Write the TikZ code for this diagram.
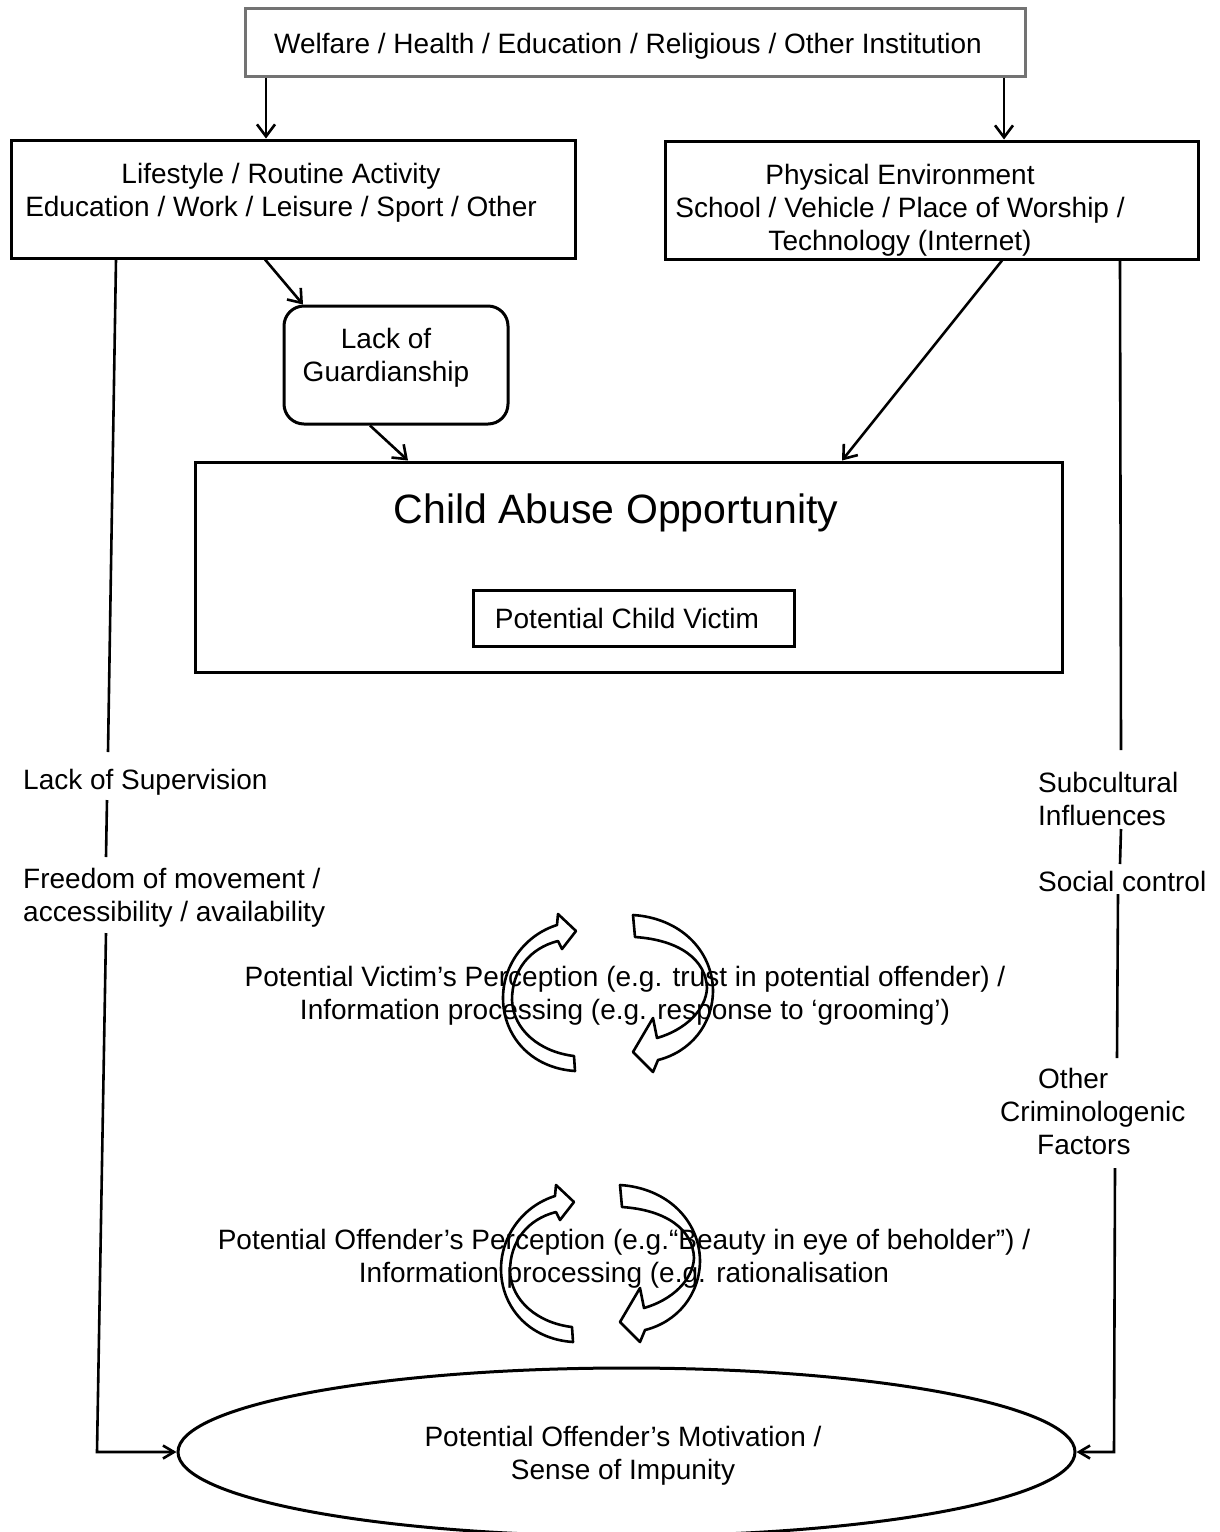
\documentclass[tikz,border=0pt]{standalone}
\usepackage{fontspec}
\setmainfont{Liberation Sans}
\usetikzlibrary{arrows.meta,shapes.geometric}
\begin{document}
\begin{tikzpicture}[x=1pt,y=-1pt,
  txt/.style={font=\fontsize{28}{33}\selectfont, inner sep=0pt, align=center, yshift=-3pt},
  box/.style={draw, line width=3pt, inner sep=0pt},
  conn/.style={line width=2.6pt},
  arr/.style={line width=2.6pt, -{Straight Barb[length=12pt,width=18pt,line width=2.6pt]}},
  arrs/.style={line width=2.6pt, -{Straight Barb[length=11pt,width=13pt,line width=2.6pt]}},
  cyc/.style={line width=2.6pt, line join=round},
  leftcyc/.pic={\draw[cyc] (575,1071) .. controls (530,1068) and (503,1035) .. (503,998)
      .. controls (503,965) and (525,935) .. (557,925) -- (558,914) -- (576,931) -- (562,949) -- (558,941)
      .. controls (530,948) and (512,970) .. (512,1000) .. controls (513,1030) and (540,1052) .. (574,1056) -- cycle;},
  rightcyc/.pic={\draw[cyc] (633,915) .. controls (680,918) and (712,950) .. (713,990)
      .. controls (713,1025) and (690,1052) .. (658,1060) -- (653,1072) -- (633,1052) -- (653,1018) -- (657,1038)
      .. controls (685,1030) and (706,1010) .. (707,988) .. controls (706,960) and (680,940) .. (635,937) -- cycle;}
]
\useasboundingbox (0,0) rectangle (1219,1532);
\fill[white] (0,0) rectangle (1219,1532);

% boxes
\node[box, draw=black!55, minimum width=780, minimum height=68] (top) at (635,42) {};
\node[txt] (toptxt) at (628,43) {Welfare / Health / Education / Religious / Other Institution};

\node[box, minimum width=564, minimum height=118] (life) at (293,199) {};
\node[txt] (lifetxt) at (281,189.5) {Lifestyle / Routine Activity\\Education / Work / Leisure / Sport / Other};

\node[box, minimum width=533, minimum height=118] (phys) at (931.5,200) {};
\node[txt] (phystxt) at (900,207) {Physical Environment\\School / Vehicle / Place of Worship /\\Technology (Internet)};

\node[box, rounded corners=20pt, minimum width=224, minimum height=118] (guard) at (396,365) {};
\node[txt] (guardtxt) at (386,354.5) {Lack of\\Guardianship};

\node[box, minimum width=867, minimum height=210] (cao) at (628.5,567) {};
\node[txt, font=\fontsize{41}{48}\selectfont] (caotxt) at (616,510) {Child Abuse Opportunity};
\node[box, minimum width=321, minimum height=56] (victim) at (633.5,618) {};
\node[txt] (victimtxt) at (627,615) {Potential Child Victim};

\node[draw, ellipse, line width=3pt, inner sep=0pt, minimum width=897, minimum height=168] (ell) at (626.5,1452) {};
\node[txt] (mot) at (623,1452.5) {Potential Offender’s Motivation /\\Sense of Impunity};

% connectors top
\draw[arr] ([xshift=-369]top.south) -- ([xshift=-27]life.north);
\draw[arr] ([xshift=369]top.south) -- ([xshift=72.5]phys.north);
\draw[arr] ([xshift=-28]life.south) -- ([xshift=-93]guard.north);
\draw[arr] ([xshift=-26]guard.south) -- ([xshift=-220.5]cao.north);
\draw[arr] ([xshift=70.5]phys.south) -- ([xshift=213.5]cao.north);

% side labels
\node[txt, anchor=west] (sup) at (23,779) {Lack of Supervision};
\node[txt, anchor=west, align=left] (free) at (23,894.5) {Freedom of movement /\\accessibility / availability};
\node[txt, anchor=west, align=left] (subc) at (1038,796) {Subcultural\\Influences};
\node[txt, anchor=west] (soc) at (1038,878) {Social control};
\node[txt, anchor=west, align=left] (oth) at (1000,1108) {\hspace*{38pt}Other\\Criminologenic\\\hspace*{37pt}Factors};

% left line
\coordinate (l1) at (108,752);
\coordinate (l2) at (107,800);
\coordinate (l3) at (106,857);
\coordinate (l4) at (106,933);
\coordinate (lc) at (97,1452);
\draw[conn] ([xshift=-177]life.south) -- (l1);
\draw[conn] (l2) -- (l3);
\draw[arrs] (l4) -- (lc) -- (ell.west);

% right line
\coordinate (r1) at (1121,750);
\coordinate (r2) at (1121,829);
\coordinate (r3) at (1120,864);
\coordinate (r4) at (1118,894);
\coordinate (r5) at (1117,1058);
\coordinate (r6) at (1115,1168);
\coordinate (rc) at (1114,1452);
\draw[conn] ([xshift=188.5]phys.south) -- (r1);
\draw[conn] (r2) -- (r3);
\draw[conn] (r4) -- (r5);
\draw[arrs] (r6) -- (rc) -- (ell.east);

% perception texts
\node[txt] (vic) at (625,992.5) {Potential Victim’s Perception (e.g. trust in potential offender) /\\Information processing (e.g. response to ‘grooming’)};
\node[txt] (off) at (624,1255.5) {Potential Offender’s Perception (e.g.“Beauty in eye of beholder”) /\\Information processing (e.g. rationalisation};

% circular arrows
\pic at (0,0) {leftcyc};
\pic at (0,0) {rightcyc};
\pic at (-2,271) {leftcyc};
\pic at (-13,270) {rightcyc};
\end{tikzpicture}
\end{document}
